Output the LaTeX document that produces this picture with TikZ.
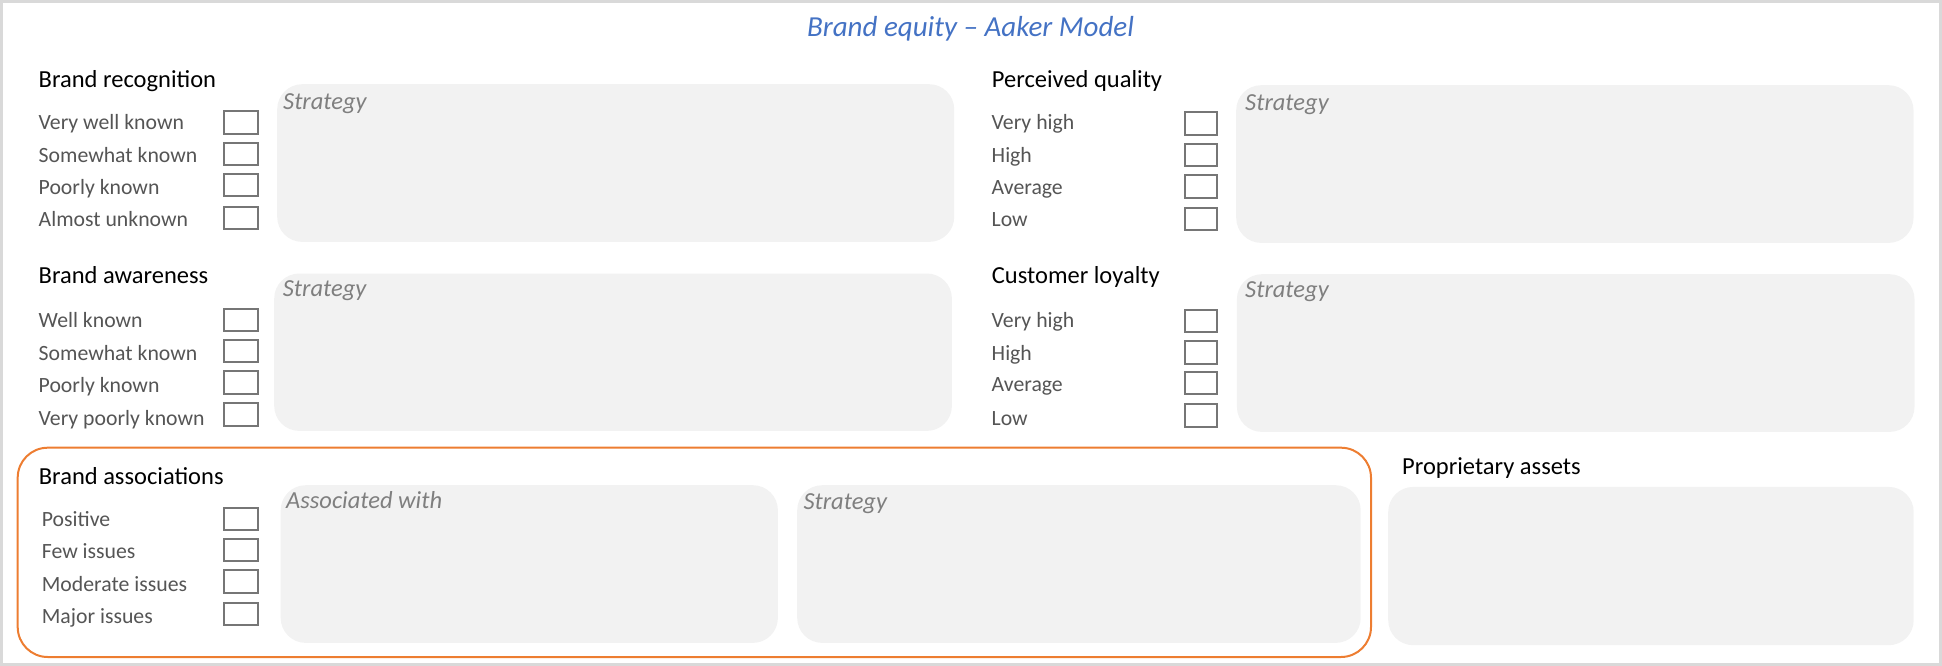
\documentclass[tikz,border=0pt]{standalone}
\usepackage{fontspec}
\setmainfont{Carlito}
\definecolor{ttl}{HTML}{4472C4}
\definecolor{itemgray}{HTML}{555555}
\definecolor{hintgray}{HTML}{7F7F7F}
\definecolor{panelgray}{HTML}{F2F2F2}
\definecolor{boxgray}{HTML}{767676}
\definecolor{frameorange}{HTML}{ED7D31}
\definecolor{bordergray}{HTML}{D9D9D9}
\begin{document}
\begin{tikzpicture}[x=1pt,y=-1pt,
  ttlstyle/.style={font=\fontsize{29}{34}\selectfont\itshape, text=ttl, inner sep=0pt, anchor=base},
  head/.style={font=\fontsize{24.5}{29}\selectfont, text=black, inner sep=0pt, anchor=base west},
  item/.style={font=\fontsize{21.75}{26}\selectfont, text=itemgray, inner sep=0pt, anchor=base west},
  hint/.style={font=\fontsize{24.5}{29}\selectfont\itshape, text=hintgray, inner sep=0pt, anchor=base west},
  panel/.style={fill=panelgray, rounded corners=25pt, anchor=north west, inner sep=0pt},
  cboxl/.style={draw=boxgray, line width=2pt, minimum width=33.4pt, minimum height=22.5pt, inner sep=0pt},
  cboxr/.style={draw=boxgray, line width=2pt, minimum width=31.4pt, minimum height=22.5pt, inner sep=0pt}
]
\useasboundingbox (0,0) rectangle (1942,666);
\draw[bordergray, line width=2.6pt] (1.3,1.3) rectangle (1940.7,664.7);

% title
\node[ttlstyle] (title) at (970.5,36.5) {Brand equity – Aaker Model};

% panels
\node[panel, minimum width=677pt, minimum height=157.7pt] (p1) at (277,84) {};
\node[panel, minimum width=677.7pt, minimum height=157.4pt] (p2) at (274,273.3) {};
\node[panel, minimum width=677.3pt, minimum height=157.7pt] (p3) at (1236,85) {};
\node[panel, minimum width=677.6pt, minimum height=157.7pt] (p4) at (1236.7,274) {};
\node[panel, minimum width=497.2pt, minimum height=157.7pt] (p5) at (280.5,485) {};
\node[panel, minimum width=563.5pt, minimum height=157.7pt] (p6) at (797,485) {};
\node[panel, minimum width=525.5pt, minimum height=158.3pt] (p7) at (1388,486.7) {};

% orange frame
\node[draw=frameorange, line width=2pt, rounded corners=30pt, anchor=north west, inner sep=0pt,
      minimum width=1353.3pt, minimum height=209.3pt] (frame) at (16.7,446.7) {};

% hints
\node[hint] (h1) at (283,109.8) {Strategy};
\node[hint] (h2) at (282.7,296.2) {Strategy};
\node[hint] (h3) at (1245,110.2) {Strategy};
\node[hint] (h4) at (1245,297.2) {Strategy};
\node[hint] (h5) at (286,508.5) {Associated with};
\node[hint] (h6) at (803.3,509.5) {Strategy};

% headings
\node[head] (t1) at (38.5,87.9) {Brand recognition};
\node[head] (t2) at (38.5,283.5) {Brand awareness};
\node[head] (t5) at (38.7,484.2) {Brand associations};
\node[head] (t3) at (991.7,87.9) {Perceived quality};
\node[head] (t4) at (991.7,283.5) {Customer loyalty};
\node[head] (t7) at (1402,474.5) {Proprietary assets};

% section 1
\node[item] (a1) at (38.5,129.5) {Very well known};
\node[item] (a2) at (38.5,162.9) {Somewhat known};
\node[item] (a3) at (38.5,194.5) {Poorly known};
\node[item] (a4) at (38.5,226.9) {Almost unknown};
\node[cboxl] (ca1) at (241,122.5) {};
\node[cboxl] (ca2) at (241,154) {};
\node[cboxl] (ca3) at (241,185.2) {};
\node[cboxl] (ca4) at (241,218) {};

% section 2
\node[item] (b1) at (38.5,327.2) {Well known};
\node[item] (b2) at (38.5,360.2) {Somewhat known};
\node[item] (b3) at (38.5,392.5) {Poorly known};
\node[item] (b4) at (38.5,425.2) {Very poorly known};
\node[cboxl] (cb1) at (241,320) {};
\node[cboxl] (cb2) at (241,350.8) {};
\node[cboxl] (cb3) at (241,382.5) {};
\node[cboxl] (cb4) at (241,414.7) {};

% associations
\node[item] (e1) at (41.7,526.2) {Positive};
\node[item] (e2) at (41.7,558.2) {Few issues};
\node[item] (e3) at (41.7,591.9) {Moderate issues};
\node[item] (e4) at (41.7,623.9) {Major issues};
\node[cboxl] (ce1) at (241,519) {};
\node[cboxl] (ce2) at (241,550.2) {};
\node[cboxl] (ce3) at (241,581.7) {};
\node[cboxl] (ce4) at (241,614) {};

% section 3
\node[item] (c1) at (991.5,129.9) {Very high};
\node[item] (c2) at (991.5,162.9) {High};
\node[item] (c3) at (991.5,194.5) {Average};
\node[item] (c4) at (991.5,226.9) {Low};
\node[cboxr] (cc1) at (1201,123.7) {};
\node[cboxr] (cc2) at (1201,155.2) {};
\node[cboxr] (cc3) at (1201,186.7) {};
\node[cboxr] (cc4) at (1201,218.8) {};

% section 4
\node[item] (d1) at (991.5,327.2) {Very high};
\node[item] (d2) at (991.5,360.2) {High};
\node[item] (d3) at (991.5,391.9) {Average};
\node[item] (d4) at (991.5,425.2) {Low};
\node[cboxr] (cd1) at (1201,320.8) {};
\node[cboxr] (cd2) at (1201,352.5) {};
\node[cboxr] (cd3) at (1201,383.2) {};
\node[cboxr] (cd4) at (1201,415.5) {};
\end{tikzpicture}
\end{document}
